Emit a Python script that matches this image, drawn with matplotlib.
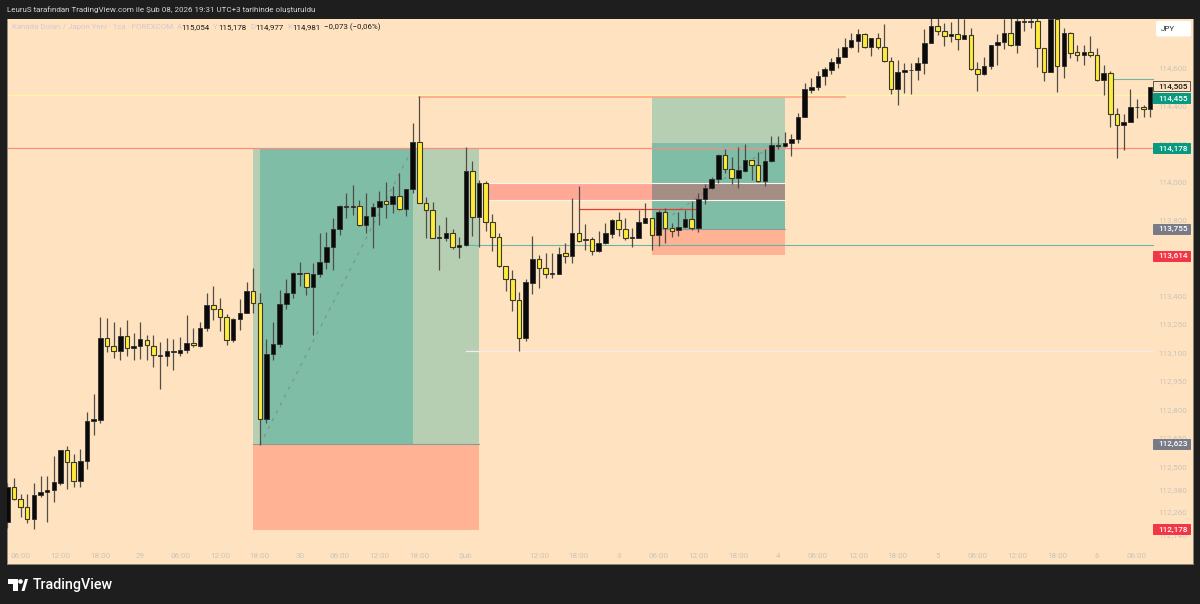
import matplotlib
matplotlib.use("Agg")
import numpy as np
from matplotlib import pyplot as plt
from matplotlib.patches import Polygon, Rectangle, FancyBboxPatch

plt.rcParams["font.family"] = ["Roboto", "DejaVu Sans"]

# hourly candles
opens = [112.209, 112.393, 112.333, 112.288, 112.226, 112.353, 112.367, 112.377, 112.418, 112.588,
         112.528, 112.426, 112.530, 112.742, 112.749, 113.177, 113.135, 113.112, 113.191, 113.126,
         113.137, 113.170, 113.139, 113.086, 113.084, 113.103, 113.102, 113.116, 113.151, 113.139,
         113.233, 113.351, 113.330, 113.288, 113.168, 113.277, 113.312, 113.426, 113.365, 112.751,
         113.095, 113.146, 113.358, 113.416, 113.518, 113.519, 113.449, 113.514, 113.581, 113.656,
         113.751, 113.875, 113.867, 113.874, 113.774, 113.819, 113.870, 113.902, 113.884, 113.925,
         113.860, 113.963, 114.209, 113.888, 113.851, 113.705, 113.707, 113.733, 113.660, 113.667,
         114.058, 113.814, 113.995, 113.788, 113.709, 113.556, 113.488, 113.377, 113.181, 113.470,
         113.593, 113.546, 113.516, 113.518, 113.625, 113.612, 113.733, 113.695, 113.702, 113.635,
         113.677, 113.728, 113.798, 113.753, 113.707, 113.707, 113.786, 113.809, 113.721, 113.844,
         113.758, 113.747, 113.761, 113.805, 113.758, 113.911, 113.967, 114.014, 114.144, 114.070,
         114.023, 114.060, 114.114, 114.091, 114.005, 114.112, 114.195, 114.188, 114.204, 114.225,
         114.340, 114.486, 114.498, 114.558, 114.590, 114.628, 114.660, 114.711, 114.744, 114.779,
         114.712, 114.756, 114.712, 114.639, 114.488, 114.577, 114.588, 114.588, 114.625, 114.732,
         114.823, 114.795, 114.770, 114.777, 114.753, 114.772, 114.593, 114.569, 114.612, 114.719,
         114.735, 114.784, 114.723, 114.844, 114.844, 114.847, 114.704, 114.577, 114.856, 114.612,
         114.783, 114.683, 114.667, 114.684, 114.667, 114.539, 114.572, 114.356, 114.298, 114.314,
         114.393, 114.395, 114.384]
closes = [112.393, 112.333, 112.288, 112.226, 112.353, 112.367, 112.379, 112.419, 112.588, 112.528,
          112.426, 112.530, 112.744, 112.751, 113.177, 113.135, 113.112, 113.191, 113.125, 113.137,
          113.172, 113.140, 113.088, 113.089, 113.109, 113.109, 113.116, 113.151, 113.140, 113.233,
          113.351, 113.330, 113.288, 113.167, 113.277, 113.312, 113.426, 113.365, 112.751, 113.095,
          113.147, 113.358, 113.416, 113.519, 113.521, 113.449, 113.516, 113.581, 113.656, 113.751,
          113.874, 113.867, 113.874, 113.774, 113.819, 113.870, 113.902, 113.884, 113.925, 113.860,
          113.965, 114.209, 113.888, 113.851, 113.703, 113.709, 113.733, 113.660, 113.667, 114.058,
          113.814, 113.995, 113.788, 113.709, 113.558, 113.488, 113.377, 113.181, 113.472, 113.593,
          113.546, 113.518, 113.519, 113.623, 113.612, 113.733, 113.691, 113.702, 113.635, 113.677,
          113.730, 113.798, 113.753, 113.707, 113.711, 113.788, 113.809, 113.723, 113.844, 113.756,
          113.744, 113.765, 113.805, 113.760, 113.911, 113.967, 114.018, 114.144, 114.070, 114.023,
          114.061, 114.114, 114.091, 114.005, 114.112, 114.193, 114.189, 114.205, 114.225, 114.344,
          114.488, 114.502, 114.560, 114.593, 114.630, 114.660, 114.712, 114.746, 114.779, 114.712,
          114.756, 114.712, 114.639, 114.488, 114.577, 114.591, 114.591, 114.625, 114.733, 114.823,
          114.793, 114.770, 114.777, 114.754, 114.772, 114.593, 114.569, 114.612, 114.721, 114.735,
          114.784, 114.721, 114.847, 114.847, 114.847, 114.704, 114.577, 114.856, 114.612, 114.783,
          114.681, 114.667, 114.684, 114.667, 114.539, 114.572, 114.356, 114.298, 114.316, 114.395,
          114.396, 114.383, 114.502]
highs = [112.414, 112.440, 112.356, 112.356, 112.414, 112.453, 112.454, 112.560, 112.588, 112.611,
         112.568, 112.595, 112.789, 112.882, 113.291, 113.286, 113.261, 113.239, 113.272, 113.207,
         113.263, 113.195, 113.195, 113.158, 113.177, 113.174, 113.184, 113.300, 113.233, 113.261,
         113.414, 113.453, 113.388, 113.305, 113.282, 113.382, 113.475, 113.546, 113.418, 113.172,
         113.261, 113.432, 113.488, 113.528, 113.581, 113.523, 113.575, 113.730, 113.735, 113.812,
         113.879, 113.944, 113.984, 113.905, 113.940, 113.891, 113.951, 113.998, 113.981, 114.046,
         113.965, 114.312, 114.453, 113.919, 113.896, 113.774, 113.818, 113.751, 113.712, 114.182,
         114.111, 114.011, 114.007, 113.830, 113.730, 113.556, 113.537, 113.423, 113.488, 113.716,
         113.616, 113.625, 113.628, 113.656, 113.677, 113.914, 113.979, 113.777, 113.712, 113.742,
         113.786, 113.803, 113.842, 113.809, 113.756, 113.853, 113.888, 113.811, 113.853, 113.861,
         113.786, 113.840, 113.853, 113.902, 113.940, 113.989, 114.025, 114.146, 114.172, 114.130,
         114.186, 114.200, 114.116, 114.160, 114.172, 114.244, 114.242, 114.261, 114.253, 114.361,
         114.519, 114.546, 114.584, 114.607, 114.651, 114.704, 114.756, 114.786, 114.804, 114.783,
         114.756, 114.786, 114.830, 114.660, 114.642, 114.625, 114.625, 114.660, 114.804, 114.870,
         114.900, 114.835, 114.844, 114.900, 114.856, 114.809, 114.630, 114.660, 114.721, 114.777,
         114.858, 114.870, 114.880, 114.880, 114.880, 114.880, 114.704, 114.880, 114.880, 114.809,
         114.791, 114.721, 114.721, 114.769, 114.707, 114.616, 114.584, 114.391, 114.358, 114.491,
         114.437, 114.407, 114.502]
lows = [112.177, 112.326, 112.239, 112.203, 112.174, 112.344, 112.212, 112.314, 112.405, 112.384,
        112.396, 112.396, 112.488, 112.667, 112.730, 113.107, 113.075, 113.063, 113.084, 113.063,
        113.068, 113.063, 113.028, 112.912, 113.033, 113.011, 113.084, 113.098, 113.133, 113.133,
        113.218, 113.274, 113.218, 113.142, 113.156, 113.221, 113.312, 113.309, 112.616, 112.733,
        113.063, 113.133, 113.330, 113.388, 113.454, 113.405, 113.195, 113.502, 113.544, 113.537,
        113.721, 113.811, 113.825, 113.770, 113.733, 113.654, 113.774, 113.811, 113.835, 113.853,
        113.821, 113.940, 113.888, 113.707, 113.703, 113.535, 113.691, 113.646, 113.602, 113.665,
        113.716, 113.656, 113.744, 113.639, 113.551, 113.428, 113.321, 113.112, 113.163, 113.409,
        113.440, 113.493, 113.493, 113.514, 113.572, 113.572, 113.686, 113.642, 113.616, 113.632,
        113.674, 113.707, 113.716, 113.695, 113.660, 113.703, 113.782, 113.642, 113.663, 113.681,
        113.712, 113.717, 113.756, 113.747, 113.739, 113.882, 113.961, 113.993, 114.046, 113.989,
        113.970, 114.054, 114.011, 114.002, 113.981, 114.107, 114.172, 114.186, 114.139, 114.207,
        114.340, 114.467, 114.484, 114.511, 114.569, 114.602, 114.656, 114.707, 114.683, 114.707,
        114.665, 114.698, 114.633, 114.463, 114.407, 114.467, 114.463, 114.537, 114.569, 114.730,
        114.774, 114.716, 114.735, 114.695, 114.751, 114.590, 114.481, 114.565, 114.593, 114.616,
        114.700, 114.716, 114.677, 114.797, 114.812, 114.604, 114.533, 114.577, 114.472, 114.546,
        114.654, 114.639, 114.616, 114.660, 114.532, 114.460, 114.288, 114.128, 114.168, 114.314,
        114.335, 114.344, 114.344]

# time axis
time_bars = [2, 8, 14, 20, 26, 32, 38, 44, 50, 56, 62, 69, 80, 86, 92, 98, 104, 110, 116, 122, 128,
             134, 140, 146, 152, 158, 164, 170]
time_labels = ["06:00", "12:00", "18:00", "29", "06:00", "12:00", "18:00", "30", "06:00", "12:00",
               "18:00", "Şub", "12:00", "18:00", "3", "06:00", "12:00", "18:00", "4", "06:00", "12:00",
               "18:00", "5", "06:00", "12:00", "18:00", "6", "06:00"]

# price axis
price_ticks = [114.6, 114.4, 114.2, 114.0, 113.8, 113.6, 113.4, 113.25, 113.1, 112.95, 112.8, 112.65,
               112.5, 112.38, 112.26, 112.14]
tag_prices = [114.503, 114.440, 114.178, 113.755, 113.612, 112.623, 112.172]
tag_labels = ["114,505", "114,455", "114,178", "113,755", "113,614", "112,623", "112,178"]
tag_colors = ["#ffe3c0", "#089981", "#089981", "#787b86", "#f23645", "#787b86", "#f23645"]

# header values
legend_keys = ["A", "Y", "D", "K"]
legend_values = ["115,054", "115,178", "114,977", "114,981"]
legend_change = "−0,073 (−0,06%)"

# (from bar, to bar, top price, entry price, stop price)
long_1 = (37, 71, 114.178, 112.623, 112.170)
long_1_hit = (38, 61)
long_2 = (97, 117, 114.447, 113.755, 113.614)
long_2_hit_top = 114.207
supply_zone = (72, 117, 113.993, 113.905)

BG = "#ffe3c0"
DARK = "#1e1e1e"
W, H = 1200, 604
PANE_L, PANE_R, PANE_T, PANE_B = 7, 1193, 18.5, 564

def px_to_bar(px):
    return (px - 7.3) / 6.645

fig = plt.figure(figsize=(W / 100, H / 100), dpi=100, facecolor=DARK)
ax = fig.add_axes([PANE_L / W, 1 - PANE_B / H, (PANE_R - PANE_L) / W, (PANE_B - PANE_T) / H], facecolor=BG)
ax.set_xlim(px_to_bar(PANE_L), px_to_bar(PANE_R))
ax.set_ylim(111.989, 114.8605)
for s in ax.spines.values():
    s.set_color("#8c877a")
    s.set_linewidth(0.7)
ax.spines["top"].set_visible(False)
ax.set_yticks([])
ax.set_xticks(time_bars)
ax.set_xticklabels(time_labels, fontsize=5.8, color="#c9c4b8")
ax.tick_params(axis="x", length=0, pad=-8)
SCALE_END = px_to_bar(1153)


def rect(x0, x1, y0, y1, color, alpha=1.0, z=1):
    ax.add_patch(Rectangle((x0, y0), x1 - x0, y1 - y0, facecolor=color, edgecolor="none", alpha=alpha, zorder=z))


# position tools
x0, x1, top, entry, stop = long_1
rect(x0, x1, entry, top, "#b6cfb2")
rect(long_1_hit[0], long_1_hit[1], entry, top, "#80bda7", z=1.1)
rect(x0, x1, stop, entry, "#ffb294")
ax.plot([x0, x1], [entry, entry], color="#8f9a90", lw=0.8, zorder=1.2)
ax.plot([38, 61], [lows[38], top], color="#7f8f88", lw=0.8, ls=(0, (3, 5)), zorder=1.2)

x0, x1, top, entry, stop = long_2
rect(x0, x1, entry, top, "#b6cfb2")
rect(x0, x1, entry, long_2_hit_top, "#80bda7", z=1.1)
rect(x0, x1, stop, entry, "#ffb294")
ax.plot([x0, x1], [entry, entry], color="#8f9a90", lw=0.8, zorder=1.2)
ax.plot([99, 115], [113.80, 114.19], color="#7f8f88", lw=0.8, ls=(0, (3, 5)), zorder=1.2)

# supply zone
x0, x1, top, bottom = supply_zone
rect(x0, x1, bottom, top, "#ff1832", alpha=0.29, z=1.5)
for y in (top, bottom):
    ax.plot([x0, x1], [y, y], color="#fff2ea", lw=0.8, zorder=1.6)

# horizontal rays
ax.plot([px_to_bar(PANE_L), SCALE_END], [114.456, 114.456], color="#fff7a8", lw=1.0, zorder=2)
ax.plot([62, 126], [114.449, 114.449], color="#ffa585", lw=1.2, zorder=2.1)
ax.plot([px_to_bar(PANE_L), SCALE_END], [114.178, 114.178], color="#ff8a80", lw=0.9, zorder=2)
ax.plot([69, SCALE_END], [113.667, 113.667], color="#6bb5a5", lw=0.8, zorder=2)
ax.plot([69, SCALE_END], [113.112, 113.112], color="#f7e9ee", lw=0.9, zorder=2)
ax.plot([166, SCALE_END], [114.541, 114.541], color="#6bb5a5", lw=0.8, zorder=2)
ax.plot([86, 104], [113.856, 113.856], color="#e53935", lw=0.9, zorder=2)

# candles
bars = np.arange(len(opens))
o = np.array(opens)
c = np.array(closes)
up = c >= o
ax.vlines(bars, lows, highs, color="#4f4d45", lw=0.9, zorder=3)
ax.bar(bars[up], (c - o)[up], bottom=o[up], width=0.68, color="#0a0a0a", edgecolor="#2e2e2e", lw=0.6, zorder=4)
ax.bar(bars[~up], (o - c)[~up], bottom=c[~up], width=0.68, color="#ffeb3b", edgecolor="#3a3828", lw=0.8, zorder=4)

# price scale
scale_x = px_to_bar(1172.7)
for p in price_ticks:
    ax.text(scale_x, p, f"{p:.3f}".replace(".", ","), ha="center", va="center", fontsize=5.8, color="#c9c4b8", zorder=5)
tag_h = 10 / 190
for p, label, col in zip(tag_prices, tag_labels, tag_colors):
    outline = "#5a5548" if col == BG else col
    ax.add_patch(Rectangle((SCALE_END, p - tag_h / 2), px_to_bar(1190) - SCALE_END, tag_h, facecolor=col,
                           edgecolor=outline, lw=0.7, zorder=6))
    ax.text(scale_x, p, label, ha="center", va="center_baseline", fontsize=5.9, fontweight="medium", zorder=7,
            color="#1a1a1a" if col == BG else "white")

# overlay in pixel coordinates for header, legend, button and logo
top_ax = fig.add_axes([0, 0, 1, 1], facecolor="none")
top_ax.set_xlim(0, W)
top_ax.set_ylim(H, 0)
top_ax.axis("off")
top_ax.text(7, 9.5, "LeuruS tarafından TradingView.com ile Şub 08, 2026 19:31 UTC+3 tarihinde oluşturuldu",
            fontsize=5.75, color="#d6d6d6", va="center")
top_ax.text(12, 27, "Kanada Doları / Japon Yeni · 1sa · FOREXCOM", fontsize=5.7, color="#cfc9d6", va="center")
for key, val, kx in zip(legend_keys, legend_values, [176.7, 213.3, 250, 287.3]):
    top_ax.text(kx, 27, key, fontsize=5.7, color="#cfc9d6", va="center")
    top_ax.text(kx + 5, 27, val, fontsize=5.7, color="#1a1a1a", va="center")
top_ax.text(324.3, 27, legend_change, fontsize=5.7, color="#1a1a1a", va="center")

top_ax.add_patch(FancyBboxPatch((1157, 22), 33, 13.5, boxstyle="round,pad=1,rounding_size=2",
                                facecolor="white", edgecolor="none"))
top_ax.text(1167.5, 29, "JPY", fontsize=5.8, color="#2a2a2a", ha="center", va="center")

# TradingView mark
logo = [[(8, 579), (18, 579), (18, 591), (13, 591), (13, 584), (8, 584)],
        [(21.5, 591), (25, 579), (28, 579), (24.5, 591)]]
for pts in logo:
    top_ax.add_patch(Polygon(pts, closed=True, facecolor="white", edgecolor="none"))
top_ax.add_patch(plt.Circle((20.5, 581.5), 2.3, facecolor="white", edgecolor="none"))
top_ax.text(33, 585, "TradingView", fontsize=10.3, color="white", va="center", fontweight="medium")

plt.savefig("out.png", dpi=100, facecolor=DARK)
